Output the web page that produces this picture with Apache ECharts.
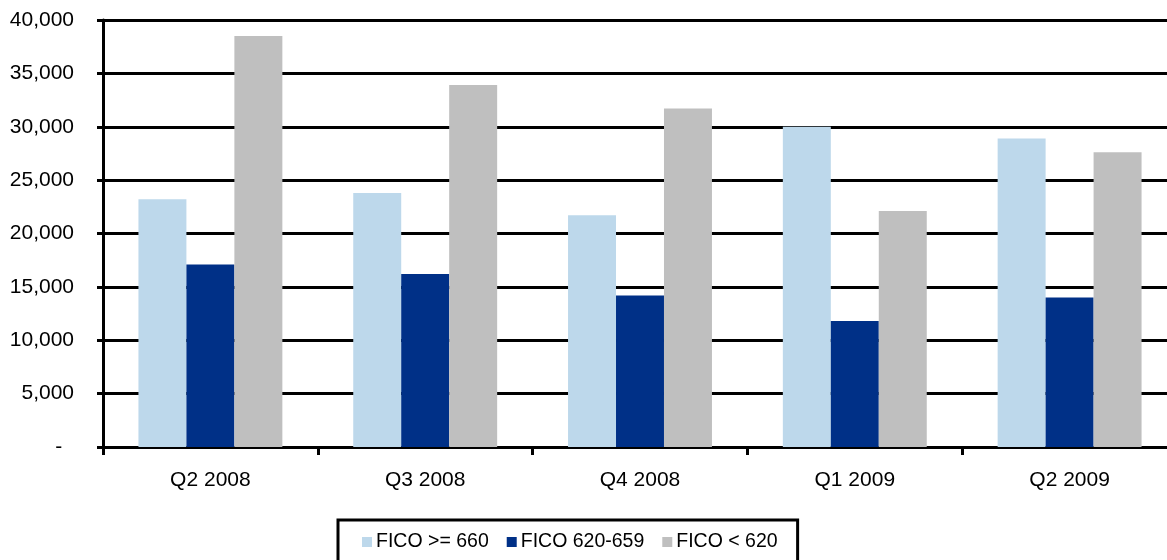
<!DOCTYPE html>
<html>
<head>
<meta charset="utf-8">
<script src="https://cdn.jsdelivr.net/npm/echarts@6/dist/echarts.min.js"></script>
<style>
html,body{margin:0;padding:0;background:#fff;overflow:hidden;width:1167px;height:560px;}
#chart{width:1180px;height:560px;}
</style>
</head>
<body>
<div id="chart"></div>
<script>
const categories = ['Q2 2008', 'Q3 2008', 'Q4 2008', 'Q1 2009', 'Q2 2009'];
const seriesNames = ['FICO >= 660', 'FICO 620-659', 'FICO < 620'];
const ficoHigh = [23200, 23800, 21700, 30000, 28900];
const ficoMid = [17100, 16200, 14200, 11800, 14000];
const ficoLow = [38500, 33900, 31700, 22100, 27600];
const colors = ['#BDD8EB', '#003087', '#BFBFBF'];

const chart = echarts.init(document.getElementById('chart'), null, {renderer: 'canvas'});
const font = '"Liberation Sans", Arial, sans-serif';
const seriesData = [ficoHigh, ficoMid, ficoLow];

chart.setOption({
  animation: false,
  backgroundColor: '#ffffff',
  textStyle: {fontFamily: font, color: '#000'},
  grid: {left: 103, top: 20, width: 1074, height: 427, containLabel: false},
  legend: {
    data: seriesNames,
    left: 338,
    top: 520,
    orient: 'horizontal',
    itemWidth: 10,
    itemHeight: 10,
    itemGap: 18,
    icon: 'rect',
    padding: [12, 20, 40, 24],
    borderColor: '#000',
    borderWidth: 3,
    borderRadius: 0,
    textStyle: {fontSize: 19.5, fontFamily: font, color: '#000', padding: [0, 0, 0, -1]}
  },
  xAxis: {
    type: 'category',
    data: categories,
    axisLine: {show: true, lineStyle: {color: '#000', width: 3}},
    axisTick: {show: true, length: 8, lineStyle: {color: '#000', width: 3}},
    axisLabel: {fontSize: 21, fontFamily: font, color: '#000', margin: 23},
    splitLine: {show: false}
  },
  yAxis: {
    type: 'value',
    min: 0,
    max: 40000,
    interval: 5000,
    axisLine: {show: true, lineStyle: {color: '#000', width: 3}},
    axisTick: {show: true, length: 6, lineStyle: {color: '#000', width: 3}},
    axisLabel: {
      fontSize: 21, fontFamily: font, color: '#000', margin: 29,
      formatter: function (v) { return v === 0 ? '-  ' : v.toLocaleString('en-US'); }
    },
    splitLine: {show: true, lineStyle: {color: '#000', width: 3}}
  },
  series: seriesNames.map((name, i) => ({
    name: name,
    type: 'bar',
    data: seriesData[i],
    barGap: '0%',
    barCategoryGap: '33%',
    itemStyle: {color: colors[i]},
    z: 3
  }))
});
</script>
</body>
</html>
